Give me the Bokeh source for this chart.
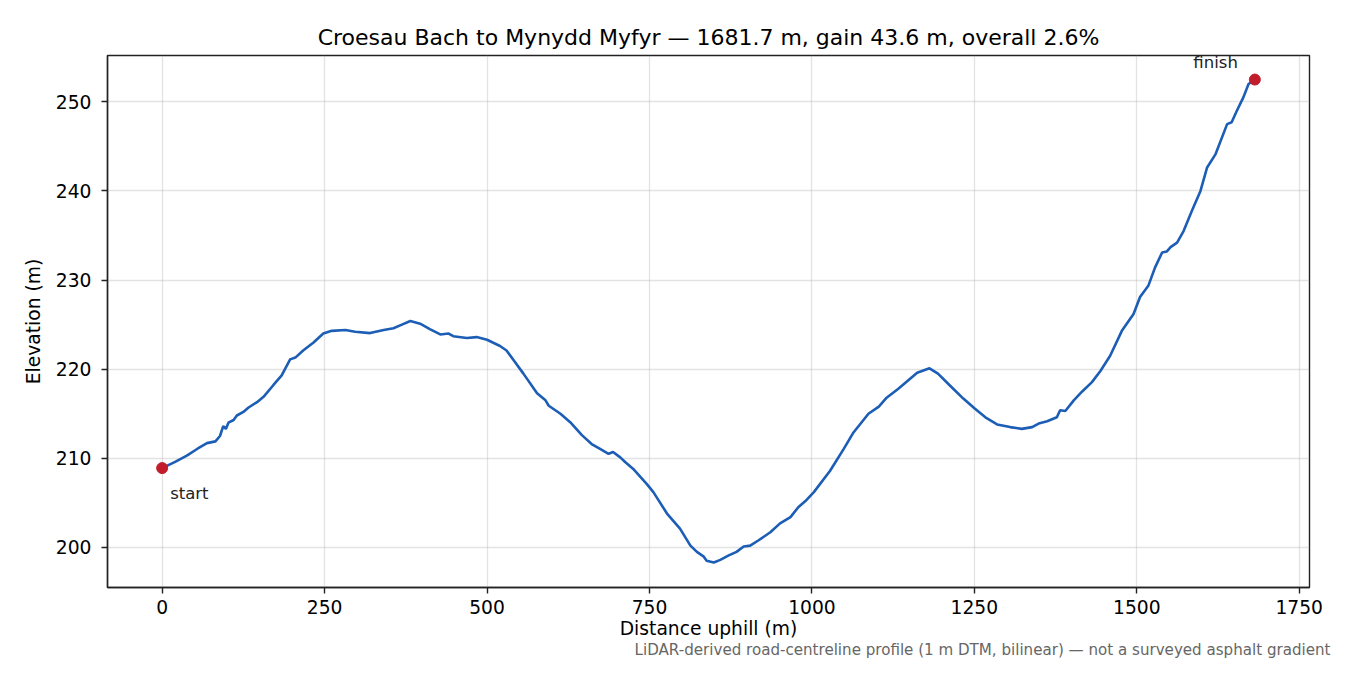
from bokeh.plotting import figure
from bokeh.models import Range1d, FixedTicker, Label, Title, ColumnDataSource
from bokeh.embed import file_html
from bokeh.resources import INLINE

# profile (distance along road, elevation)
dist_m = [0, 20, 38, 55, 69, 82, 89, 94, 98, 102, 110, 115, 125, 133, 146, 156, 171, 184,
          189, 197, 205, 217, 233, 248, 261, 282, 297, 320, 341, 356, 369, 382, 397, 412,
          428, 441, 448, 469, 484, 500, 520, 530, 541, 556, 577, 590, 595, 613, 628, 646,
          661, 674, 687, 694, 705, 713, 725, 746, 756, 777, 797, 813, 823, 833, 838, 849,
          859, 872, 884, 895, 905, 918, 936, 951, 967, 979, 990, 1003, 1028, 1049, 1064,
          1087, 1103, 1115, 1133, 1162, 1181, 1194, 1212, 1233, 1251, 1267, 1285, 1305,
          1323, 1339, 1349, 1362, 1377, 1382, 1390, 1403, 1416, 1431, 1444, 1459, 1477,
          1495, 1505, 1518, 1528, 1539, 1546, 1552, 1562, 1572, 1585, 1598, 1608, 1621,
          1639, 1646, 1654, 1664, 1672, 1681.7]
elev_m = [208.9, 209.6, 210.3, 211.1, 211.7, 211.9, 212.5, 213.6, 213.3, 214.0, 214.3, 214.8,
          215.2, 215.7, 216.3, 216.9, 218.2, 219.3, 220.0, 221.1, 221.3, 222.1, 223.0, 224.0,
          224.3, 224.4, 224.2, 224.05, 224.4, 224.6, 225.0, 225.4, 225.1, 224.5, 223.9, 224.0,
          223.7, 223.5, 223.6, 223.3, 222.6, 222.1, 221.0, 219.5, 217.3, 216.5, 215.9, 215.0,
          214.05, 212.6, 211.6, 211.05, 210.5, 210.7, 210.1, 209.55, 208.8, 207.1, 206.2,
          203.8, 202.1, 200.2, 199.5, 199.0, 198.5, 198.3, 198.6, 199.1, 199.5, 200.1, 200.2,
          200.8, 201.7, 202.7, 203.4, 204.5, 205.2, 206.2, 208.6, 211.05, 212.9, 215.0, 215.8,
          216.8, 217.8, 219.6, 220.1, 219.5, 218.2, 216.7, 215.55, 214.6, 213.8, 213.5, 213.3,
          213.5, 213.9, 214.15, 214.6, 215.4, 215.3, 216.5, 217.5, 218.55, 219.8, 221.5,
          224.3, 226.2, 228.1, 229.4, 231.4, 233.1, 233.2, 233.7, 234.2, 235.5, 237.8, 240.0,
          242.6, 244.1, 247.5, 247.7, 249.0, 250.5, 252.0, 252.5]

x_ticks = [0, 250, 500, 750, 1000, 1250, 1500, 1750]
y_ticks = [200, 210, 220, 230, 240, 250]

title_text = "Croesau Bach to Mynydd Myfyr \u2014 1681.7 m, gain 43.6 m, overall 2.6%"
note_text = ("LiDAR-derived road-centreline profile (1 m DTM, bilinear) \u2014 "
             "not a surveyed asphalt gradient")

FONT = "DejaVu Sans"
LINE = "#1c5db5"
RED = "#c21d2a"

p = figure(width=1334, height=659,
           x_range=Range1d(-84.1, 1765.8), y_range=Range1d(195.5, 255.2),
           output_backend="svg", toolbar_location=None,
           min_border_left=107, min_border_right=25, min_border_top=55, min_border_bottom=72)

p.title.text = title_text
p.title.align = "center"
p.title.text_font = FONT
p.title.text_font_size = "22px"
p.title.text_font_style = "normal"
p.title.text_color = "#000000"
p.title.standoff = 12

p.outline_line_color = "#222222"
p.outline_line_width = 1.4
p.outline_line_alpha = 1.0

p.xaxis.ticker = FixedTicker(ticks=x_ticks)
p.yaxis.ticker = FixedTicker(ticks=y_ticks)
p.xaxis.axis_label = "Distance uphill (m)"
p.yaxis.axis_label = "Elevation (m)"
for ax in (p.xaxis, p.yaxis):
    ax.axis_label_text_font = FONT
    ax.axis_label_text_font_size = "18.7px"
    ax.axis_label_text_font_style = "normal"
    ax.axis_label_text_color = "#000000"
    ax.major_label_text_font = FONT
    ax.major_label_text_font_size = "18.7px"
    ax.major_label_text_color = "#000000"
    ax.axis_line_color = "#222222"
    ax.axis_line_width = 1.4
    ax.major_tick_line_color = "#222222"
    ax.major_tick_line_width = 1.4
    ax.major_tick_out = 6
    ax.major_tick_in = 0
    ax.minor_tick_line_color = None
p.xaxis.major_label_standoff = 6
p.yaxis.major_label_standoff = 10
p.xaxis.axis_label_standoff = 1
p.yaxis.axis_label_standoff = 9

p.grid.grid_line_color = "#b0b0b0"
p.grid.grid_line_alpha = 0.35
p.grid.grid_line_width = 1.3

src = ColumnDataSource(dict(x=dist_m, y=elev_m))
p.line("x", "y", source=src, line_color=LINE, line_width=2.6)

ends = ColumnDataSource(dict(x=[dist_m[0], dist_m[-1]], y=[elev_m[0], elev_m[-1]]))
p.scatter("x", "y", source=ends, size=11, fill_color=RED, line_color=RED)

p.add_layout(Label(x=dist_m[0], y=elev_m[0], text="start", x_offset=8, y_offset=-25,
                   text_font=FONT, text_font_size="16.5px", text_color="#222222",
                   text_align="left", text_baseline="alphabetic"))
p.add_layout(Label(x=dist_m[-1], y=elev_m[-1], text="finish", x_offset=-17, y_offset=17,
                   text_font=FONT, text_font_size="16.5px", text_color="#222222",
                   text_align="right", text_baseline="alphabetic"))

# footnote: center-area labels get clipped to the frame, so it goes in the bottom panel
note = Title(text=note_text, align="right", vertical_align="top", offset=-21, standoff=-2,
             text_font=FONT, text_font_size="15.1px", text_font_style="normal",
             text_color="#666666")
p.add_layout(note, "below")

open("out.html", "w").write(file_html(p, INLINE))
